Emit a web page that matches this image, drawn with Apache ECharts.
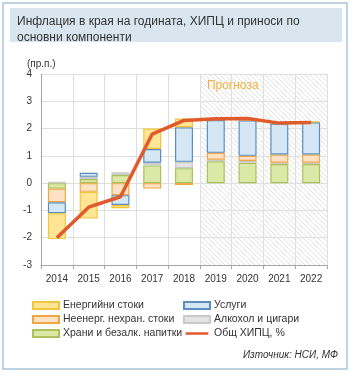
<!DOCTYPE html>
<html>
<head>
<meta charset="utf-8">
<script src="https://cdn.jsdelivr.net/npm/echarts@6/dist/echarts.min.js"></script>
<style>
html,body{margin:0;padding:0;background:#fff;}
#c{width:355px;height:376px;}
</style>
</head>
<body>
<div id="c"></div>
<script>
var categories = ['2014','2015','2016','2017','2018','2019','2020','2021','2022'];
var yTicks = [-3,-2,-1,0,1,2,3,4];
var food      = [-0.20, 0.15, 0.30, 0.65, 0.55, 0.80, 0.75, 0.70, 0.70];
var alcohol   = [ 0.05, 0.08, 0.10, 0.10, 0.23, 0.06, 0.06, 0.05, 0.05];
var nonEnergy = [-0.50,-0.32,-0.44,-0.20,-0.07, 0.25, 0.19, 0.30, 0.30];
var services  = [-0.40, 0.15,-0.36, 0.50, 1.27, 1.20, 1.30, 1.13, 1.18];
var energy    = [-0.95,-0.98,-0.12, 0.75, 0.32, 0.03, 0.03, 0.03, 0.03];
var hicp      = [-2.00,-0.88,-0.50, 1.80, 2.30, 2.36, 2.37, 2.20, 2.22];
var forecastFrom = 4.5, forecastTo = 8.5;

var FONT = 'Liberation Sans';

// hatch pattern
var pc = document.createElement('canvas');
pc.width = 5; pc.height = 5;
var ctx = pc.getContext('2d');
ctx.strokeStyle = '#e2e2e2';
ctx.lineWidth = 1;
ctx.beginPath();
ctx.moveTo(-1, -1); ctx.lineTo(6, 6);
ctx.moveTo(-1, 4); ctx.lineTo(1, 6);
ctx.moveTo(4, -1); ctx.lineTo(6, 1);
ctx.stroke();

function barSeries(name, data, fill, border) {
  return {
    name: name, type: 'bar', stack: 'total', data: data,
    barWidth: 18,
    itemStyle: {color: fill, borderColor: border, borderWidth: 1.2},
    z: 3
  };
}

var lineIcon = 'path://M0,0h0.05v0.05h-0.05zM0,2.6h26v2.8h-26zM25.95,7.95h0.05v0.05h-0.05z';

var chart = echarts.init(document.getElementById('c'), null, {renderer: 'canvas'});
chart.setOption({
  animation: false,
  textStyle: {fontFamily: FONT},
  title: {
    text: 'Инфлация в края на годината, ХИПЦ и приноси по\nосновни компоненти',
    left: 12, top: 9,
    textStyle: {fontFamily: FONT, fontSize: 12, fontWeight: 'normal', color: '#333', lineHeight: 15.5}
  },
  graphic: [
    {type: 'rect', shape: {x: 3, y: 3, width: 344, height: 366}, style: {fill: 'none', stroke: '#a9c6dd', lineWidth: 1.5}, z: -10, silent: true},
    {type: 'rect', shape: {x: 10, y: 8, width: 332, height: 34}, style: {fill: '#dae6ef'}, z: -9, silent: true},
    {type: 'text', left: 27, top: 59, style: {text: '(пр.п.)', font: '10px ' + FONT, fill: '#333'}},
    {type: 'text', right: 17, top: 350, style: {text: 'Източник: НСИ, МФ', font: 'italic 10px ' + FONT, fill: '#333'}}
  ],
  grid: {left: 41, right: 28, top: 74, bottom: 111, containLabel: false},
  legend: [
    {
      data: [{name: 'Енергийни стоки', icon: 'rect'}, {name: 'Неенерг. нехран. стоки', icon: 'rect'}, {name: 'Храни и безалк. напитки', icon: 'rect'}],
      orient: 'vertical', left: 27, top: 295, itemWidth: 26, itemHeight: 7, itemGap: 3,
      textStyle: {fontFamily: FONT, fontSize: 10.5, color: '#333', padding: [0,0,0,-1]}
    },
    {
      data: [{name: 'Услуги', icon: 'rect'}, {name: 'Алкохол и цигари', icon: 'rect'}, {name: 'Общ ХИПЦ, %', icon: lineIcon}],
      orient: 'vertical', left: 178, top: 295, itemWidth: 26, itemHeight: 7, itemGap: 3,
      textStyle: {fontFamily: FONT, fontSize: 10.5, color: '#333', padding: [0,0,0,-1]}
    }
  ],
  xAxis: [
    {
      type: 'category', data: categories,
      axisLine: {onZero: false, lineStyle: {color: '#a6a6a6'}},
      axisTick: {show: true, alignWithLabel: false, length: 4, lineStyle: {color: '#a6a6a6'}},
      axisLabel: {color: '#333', fontSize: 10, fontFamily: FONT, margin: 9},
      splitLine: {show: true, interval: 0, lineStyle: {color: '#dedede'}}
    },
    {
      type: 'value', min: -0.5, max: 8.5, show: false
    }
  ],
  yAxis: {
    type: 'value', min: yTicks[0], max: yTicks[yTicks.length-1], interval: 1,
    axisLine: {show: true, onZero: false, lineStyle: {color: '#a6a6a6'}},
    axisTick: {show: false},
    axisLabel: {color: '#333', fontSize: 10, fontFamily: FONT, margin: 9},
    splitLine: {show: true, lineStyle: {color: '#dedede'}}
  },
  series: [
    {
      name: 'forecast', type: 'line', xAxisIndex: 1, data: [[forecastFrom, null]], symbol: 'none', silent: true,
      z: 1,
      markArea: {
        silent: true,
        itemStyle: {color: {image: pc, repeat: 'repeat'}},
        label: {show: true, position: 'insideTopLeft', distance: 6, offset: [1, 0], formatter: 'Прогноза', color: '#f5b041', fontSize: 12, fontFamily: FONT},
        data: [[{xAxis: forecastFrom, yAxis: 4}, {xAxis: forecastTo, yAxis: -3}]]
      }
    },
    barSeries('Храни и безалк. напитки', food, '#dbe8a8', '#a9c35a'),
    barSeries('Алкохол и цигари', alcohol, '#e3e3e3', '#c9c9c9'),
    barSeries('Неенерг. нехран. стоки', nonEnergy, '#fde3c4', '#f0a545'),
    barSeries('Услуги', services, '#d5e7f4', '#5b8ebf'),
    barSeries('Енергийни стоки', energy, '#ffe594', '#f2c53d'),
    {
      name: 'Общ ХИПЦ, %', type: 'line', data: hicp, symbol: 'none',
      lineStyle: {color: '#e05a2b', width: 3.5}, itemStyle: {color: '#e05a2b'}, z: 5
    }
  ]
});
</script>
</body>
</html>
